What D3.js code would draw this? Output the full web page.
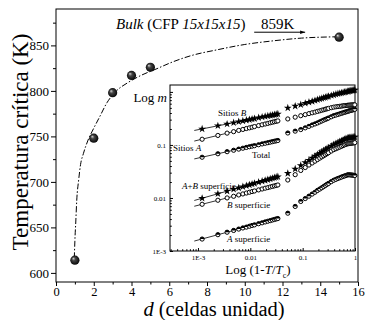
<!DOCTYPE html>
<html>
<head>
<meta charset="utf-8">
<script src="https://cdn.jsdelivr.net/npm/d3@7/dist/d3.min.js"></script>
<style>
  body { margin: 0; background: #fff; }
  svg text { font-family: "Liberation Serif", "Times New Roman", serif; fill: #000; }
</style>
</head>
<body>
<svg id="chart" width="366" height="320"></svg>
<script>
// main panel: critical temperature vs film thickness
const thickness = [1, 2, 3, 4, 5, 15];
const tCritical = [614, 748, 798, 817, 826, 859];

// dash-dot guide curve
const guideD = [0.97, 1.0, 1.05, 1.1, 1.2, 1.3, 1.45, 1.7, 2.0, 2.3, 2.7, 3.2, 3.8, 4.5, 5.3, 6.2, 7.2, 8.5, 10, 11.5, 13, 15];
const guideTc = [616, 635, 657, 680, 702, 719, 731, 746, 759, 771, 787, 800, 809, 817, 824, 832, 839, 845, 851, 855, 858, 859.5];

const xMajor = [0, 2, 4, 6, 8, 10, 12, 14, 16];
const xMinor = [1, 3, 5, 7, 9, 11, 13, 15];
const yMajor = [600, 650, 700, 750, 800, 850];
const yMinor = [625, 675, 725, 775, 825, 875];

// inset: log m vs log(1 - T/Tc)
const reducedT = [
  0.0012, 0.0024, 0.0036, 0.0048, 0.006, 0.0072, 0.0084, 0.0096, 0.0108, 0.012,
  0.0144, 0.0168, 0.0192, 0.0216, 0.024, 0.0264, 0.0288, 0.0312, 0.0336,
  0.052, 0.072, 0.092, 0.112, 0.132, 0.152, 0.172, 0.192, 0.212, 0.232, 0.252,
  0.272, 0.292, 0.312, 0.352, 0.392, 0.432, 0.472, 0.512, 0.552, 0.592, 0.632,
  0.672, 0.712, 0.752, 0.792, 0.832, 0.872, 0.912, 0.952, 0.992
];
const sitiosB = [
  0.200, 0.230, 0.248, 0.263, 0.274, 0.284, 0.293, 0.301, 0.308, 0.314,
  0.326, 0.336, 0.344, 0.352, 0.360, 0.366, 0.372, 0.378, 0.384,
  0.499, 0.540, 0.573, 0.610, 0.640, 0.665, 0.689, 0.713, 0.735, 0.753, 0.775,
  0.791, 0.809, 0.826, 0.855, 0.881, 0.906, 0.925, 0.942, 0.957, 0.975, 0.986,
  1.000, 1.019, 1.026, 1.040, 1.054, 1.062, 1.072, 1.081, 1.091
];
const sitiosA = [
  0.128, 0.151, 0.167, 0.178, 0.188, 0.196, 0.204, 0.210, 0.216, 0.222,
  0.232, 0.240, 0.248, 0.255, 0.262, 0.268, 0.274, 0.279, 0.284,
  0.309, 0.334, 0.356, 0.373, 0.390, 0.404, 0.416, 0.429, 0.440, 0.452, 0.461,
  0.472, 0.480, 0.489, 0.504, 0.516, 0.524, 0.530, 0.535, 0.540, 0.547, 0.552,
  0.553, 0.559, 0.561, 0.564, 0.566, 0.568, 0.569, 0.570, 0.570
];
const total = [
  0.0586, 0.0682, 0.0746, 0.0794, 0.0834, 0.0867, 0.0897, 0.0925, 0.0948, 0.0968,
  0.1009, 0.1045, 0.1074, 0.1102, 0.1127, 0.1153, 0.1175, 0.1194, 0.1213,
  0.168, 0.182, 0.195, 0.210, 0.224, 0.238, 0.249, 0.260, 0.272, 0.283, 0.294,
  0.303, 0.312, 0.322, 0.340, 0.356, 0.366, 0.376, 0.386, 0.395, 0.404, 0.412,
  0.420, 0.427, 0.435, 0.442, 0.448, 0.454, 0.459, 0.466, 0.470
];
const surfAB = [
  0.00986, 0.0120, 0.01346, 0.01459, 0.01552, 0.01633, 0.01706, 0.01770, 0.01832, 0.01884,
  0.01986, 0.02075, 0.02153, 0.02223, 0.02291, 0.02355, 0.02415, 0.02466, 0.02523,
  0.0291, 0.0352, 0.0410, 0.0466, 0.0516, 0.0566, 0.0615, 0.0659, 0.0700, 0.0741, 0.0778,
  0.0815, 0.0851, 0.0885, 0.0953, 0.1014, 0.1062, 0.1109, 0.1153, 0.1194, 0.1236, 0.1279,
  0.1315, 0.1343, 0.1355, 0.1368, 0.1374, 0.1387, 0.1396, 0.1403, 0.1416
];
const surfB = [
  0.00760, 0.00906, 0.01002, 0.01076, 0.01140, 0.01191, 0.01239, 0.01282, 0.01321, 0.01355,
  0.01419, 0.01476, 0.01528, 0.01570, 0.01614, 0.01652, 0.01690, 0.01722, 0.01758,
  0.0218, 0.0275, 0.0330, 0.0375, 0.0418, 0.0457, 0.0494, 0.0530, 0.0564, 0.0596, 0.0625,
  0.0656, 0.0685, 0.0713, 0.0767, 0.0815, 0.0847, 0.0881, 0.0912, 0.0944, 0.0973, 0.1005,
  0.1026, 0.1050, 0.1057, 0.1067, 0.1072, 0.1081, 0.1091, 0.1096, 0.1104
];
const surfA = [
  0.00168, 0.00203, 0.00226, 0.00244, 0.00259, 0.00272, 0.00282, 0.00293, 0.00303, 0.00311,
  0.00327, 0.00340, 0.00353, 0.00364, 0.00374, 0.00384, 0.00393, 0.00402, 0.00409,
  0.00516, 0.00692, 0.00859, 0.00975, 0.01081, 0.01186, 0.01282, 0.01387, 0.01472, 0.01556, 0.01641,
  0.01722, 0.01807, 0.01879, 0.02032, 0.02158, 0.02244, 0.02333, 0.02404, 0.02477, 0.02547, 0.02600,
  0.02655, 0.02716, 0.02742, 0.02729, 0.02716, 0.02704, 0.02692, 0.02667, 0.02655
];

// power-law fits near Tc
const fitT = [0.00085, 0.02];
const fitSitiosB = [0.1875, 0.3467];
const fitSitiosA = [0.1183, 0.2506];
const fitTotal = [0.0545, 0.1084];
const fitSurfAB = [0.00897, 0.0218];
const fitSurfB = [0.00698, 0.0154];
const fitSurfA = [0.00154, 0.00356];

const insetXTicks = [1e-3, 0.01, 0.1, 1];
const insetXLabels = ['1E-3', '0.01', '0.1', '1'];
const insetYTicks = [1e-3, 0.01, 0.1, 1];
const insetYLabels = ['1E-3', '0.01', '0.1', ''];

const svg = d3.select('#chart');

const x = d3.scaleLinear().domain([0, 16]).range([56, 358]);
const y = d3.scaleLinear().domain([590, 890]).range([282, 9]);

const defs = svg.append('defs');
const grad = defs.append('radialGradient')
  .attr('id', 'ball').attr('cx', '50%').attr('cy', '50%').attr('r', '55%')
  .attr('fx', '32%').attr('fy', '30%');
grad.append('stop').attr('offset', '0%').attr('stop-color', '#d8d8d8');
grad.append('stop').attr('offset', '35%').attr('stop-color', '#444');
grad.append('stop').attr('offset', '100%').attr('stop-color', '#000');

defs.append('marker')
  .attr('id', 'arrow').attr('viewBox', '0 0 10 10')
  .attr('refX', 10).attr('refY', 5)
  .attr('markerWidth', 7).attr('markerHeight', 5)
  .attr('orient', 'auto')
  .append('path').attr('d', 'M0,1.5 L10,5 L0,8.5 Z').attr('fill', '#000');

// main axes
const styleAxis = (g, size) => {
  g.select('.domain').remove();
  g.attr('font-size', size).attr('font-family', null);
  g.selectAll('line').attr('stroke', '#000');
};

svg.append('g')
  .attr('transform', 'translate(0,282)')
  .call(d3.axisBottom(x).tickValues(xMajor).tickSize(4).tickPadding(1).tickFormat(d3.format('d')))
  .call(g => styleAxis(g, 12.5));
svg.append('g')
  .attr('transform', 'translate(0,282)')
  .call(d3.axisBottom(x).tickValues(xMinor).tickSize(2.5).tickFormat(''))
  .call(g => styleAxis(g, 12.5));
svg.append('g')
  .attr('transform', 'translate(56,0)')
  .call(d3.axisLeft(y).tickValues(yMajor).tickSize(5).tickPadding(2).tickFormat(d3.format('d')))
  .call(g => styleAxis(g, 13));
svg.append('g')
  .attr('transform', 'translate(56,0)')
  .call(d3.axisLeft(y).tickValues(yMinor).tickSize(3).tickFormat(''))
  .call(g => styleAxis(g, 13));

svg.append('rect')
  .attr('x', x(0)).attr('y', y(890))
  .attr('width', x(16) - x(0)).attr('height', y(590) - y(890))
  .attr('fill', 'none').attr('stroke', '#000').attr('stroke-width', 1);

// axis titles
svg.append('text')
  .attr('transform', 'translate(28,142) rotate(-90)')
  .attr('text-anchor', 'middle')
  .attr('font-size', 23)
  .text('Temperatura crítica (K)');

const xTitle = svg.append('text')
  .attr('x', 214).attr('y', 316)
  .attr('text-anchor', 'middle')
  .attr('font-size', 20.5);
xTitle.append('tspan').attr('font-style', 'italic').text('d');
xTitle.append('tspan').text(' (celdas unidad)');

// guide curve + points
const guide = d3.line()
  .x(d => x(d[0]))
  .y(d => y(d[1]))
  .curve(d3.curveMonotoneX);

svg.append('path')
  .datum(guideD.map((d, i) => [d, guideTc[i]]))
  .attr('d', guide)
  .attr('fill', 'none')
  .attr('stroke', '#000')
  .attr('stroke-width', 1)
  .attr('stroke-dasharray', '6,2,1.5,2');

svg.append('g')
  .selectAll('circle')
  .data(thickness)
  .enter().append('circle')
  .attr('cx', d => x(d))
  .attr('cy', (d, i) => y(tCritical[i]))
  .attr('r', 4.6)
  .attr('fill', 'url(#ball)');

// bulk annotation
const bulk = svg.append('text')
  .attr('x', 116).attr('y', 29)
  .attr('font-size', 15);
bulk.append('tspan').attr('font-style', 'italic').text('Bulk');
bulk.append('tspan').text(' (CFP ');
bulk.append('tspan').attr('font-style', 'italic').text('15x15x15');
bulk.append('tspan').text(')');

svg.append('text')
  .attr('x', 261).attr('y', 29)
  .attr('font-size', 15)
  .text('859K');

svg.append('line')
  .attr('x1', x(10.5)).attr('x2', x(13.2))
  .attr('y1', y(864.5)).attr('y2', y(864.5))
  .attr('stroke', '#000').attr('stroke-width', 1)
  .attr('marker-end', 'url(#arrow)');

// ---------- inset ----------
const xIn = d3.scaleLog().domain([2.92e-4, 1]).range([170, 355]);
const yIn = d3.scaleLog().domain([1e-3, 1.35]).range([251, 85]);

svg.append('rect')
  .attr('x', 170).attr('y', 85)
  .attr('width', 185).attr('height', 166)
  .attr('fill', '#fff').attr('stroke', '#000').attr('stroke-width', 1);

const minorOf = scale => scale.ticks().filter(v => insetXTicks.indexOf(v) < 0);

svg.append('g')
  .attr('transform', 'translate(0,251)')
  .call(d3.axisBottom(xIn).tickValues(insetXTicks).tickSize(-3).tickPadding(4)
    .tickFormat((d, i) => insetXLabels[i]))
  .call(g => styleAxis(g, 7));
svg.append('g')
  .attr('transform', 'translate(0,251)')
  .call(d3.axisBottom(xIn).tickValues(minorOf(xIn)).tickSize(-1.8).tickFormat(''))
  .call(g => styleAxis(g, 7));
svg.append('g')
  .attr('transform', 'translate(170,0)')
  .call(d3.axisLeft(yIn).tickValues(insetYTicks).tickSize(-3).tickPadding(4)
    .tickFormat((d, i) => insetYLabels[i]))
  .call(g => styleAxis(g, 7));
svg.append('g')
  .attr('transform', 'translate(170,0)')
  .call(d3.axisLeft(yIn).tickValues(minorOf(yIn)).tickSize(-1.8).tickFormat(''))
  .call(g => styleAxis(g, 7));

const series = [
  { values: sitiosB, fit: fitSitiosB, marker: 'star' },
  { values: sitiosA, fit: fitSitiosA, marker: 'open' },
  { values: total, fit: fitTotal, marker: 'half' },
  { values: surfAB, fit: fitSurfAB, marker: 'star' },
  { values: surfB, fit: fitSurfB, marker: 'open' },
  { values: surfA, fit: fitSurfA, marker: 'half' }
];

const fitLine = d3.line()
  .x(d => xIn(d[0]))
  .y(d => yIn(d[1]));

const star = d3.symbol().type(d3.symbolStar).size(19);

series.forEach(s => {
  svg.append('path')
    .datum(fitT.map((t, i) => [t, s.fit[i]]))
    .attr('d', fitLine)
    .attr('fill', 'none')
    .attr('stroke', '#000')
    .attr('stroke-width', 0.8);

  const g = svg.append('g');
  const pts = reducedT.map((t, i) => [t, s.values[i]]);
  if (s.marker === 'star') {
    g.selectAll('path')
      .data(pts)
      .enter().append('path')
      .attr('d', star)
      .attr('transform', d => `translate(${xIn(d[0])},${yIn(d[1])})`)
      .attr('fill', '#000');
  } else {
    const m = g.selectAll('g')
      .data(pts)
      .enter().append('g')
      .attr('transform', d => `translate(${xIn(d[0])},${yIn(d[1])})`);
    m.append('circle')
      .attr('r', 2.1)
      .attr('fill', '#fff')
      .attr('stroke', '#000')
      .attr('stroke-width', 1);
    if (s.marker === 'half') {
      m.append('path')
        .attr('d', 'M-2.1,0 A2.1,2.1 0 0,1 2.1,0 Z')
        .attr('fill', '#000');
    }
  }
});

// inset labels
const label = (px, py, parts, size) => {
  const t = svg.append('text').attr('x', px).attr('y', py).attr('font-size', size);
  parts.forEach(p => {
    const s = t.append('tspan').text(p[0]);
    if (p[1]) s.attr('font-style', 'italic');
  });
  return t;
};

label(218, 116, [['Sitios '], ['B', true]], 9);
label(173, 151, [['Sitios '], ['A', true]], 9);
label(252, 158, [['Total']], 9);
label(182, 189, [['A', true], ['+'], ['B', true], [' superficie']], 9);
label(227, 208, [['B', true], [' superficie']], 9);
label(227, 242, [['A', true], [' superficie']], 9);

const logm = label(167, 102, [['Log '], ['m', true]], 13);
logm.attr('text-anchor', 'end');

const tLab = svg.append('text')
  .attr('x', 258).attr('y', 273.5)
  .attr('text-anchor', 'middle')
  .attr('font-size', 13);
tLab.append('tspan').text('Log (1-');
tLab.append('tspan').attr('font-style', 'italic').text('T');
tLab.append('tspan').text('/');
tLab.append('tspan').attr('font-style', 'italic').text('T');
tLab.append('tspan').attr('font-size', 8).attr('dy', 4).text('c');
tLab.append('tspan').attr('dy', -4).text(')');
</script>
</body>
</html>
